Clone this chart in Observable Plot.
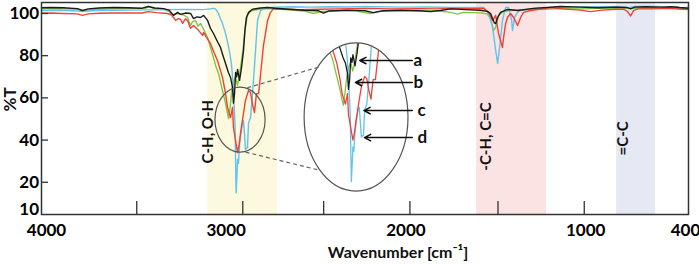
<!DOCTYPE html>
<html><head><meta charset="utf-8">
<script src="https://cdn.jsdelivr.net/npm/d3@7"></script>
<script src="https://cdn.jsdelivr.net/npm/@observablehq/plot@0.6"></script>
<style>
html,body{margin:0;padding:0;background:#fff;}
#chart{width:699px;height:264px;}
</style></head><body><div id="chart"></div>
<script>
// ---- data (wavenumber cm-1, %T) ----
const spectrumA = [[4000,102.7],[3950,102.8],[3880,102.7],[3800,102.3],[3772,101.4],[3740,102.2],[3680,102.6],[3600,102.8],[3520,102.7],[3440,102.5],[3405,103.3],[3370,102.6],[3320,102.3],[3290,101.6],[3275,100],[3265,99.1],[3243,100.5],[3226,99.6],[3200,100.2],[3170,100],[3154,97.6],[3135,98.4],[3115,98.1],[3098,99.1],[3076,96.7],[3060,93],[3043,90.5],[3020,86.5],[3004,83.9],[2990,80],[2976,76.3],[2960,72],[2948,69.7],[2937,64.9],[2932,57.5],[2926,62],[2920,72],[2914,70],[2909,73.5],[2898,68.3],[2887,74.4],[2876,82.5],[2868,92],[2860,98],[2848,100.5],[2826,102],[2781,102.6],[2742,102.8],[2700,102.5],[2620,102],[2540,101.5],[2460,101.3],[2431,100.2],[2400,101.2],[2300,101.6],[2200,101.3],[2152,100.4],[2100,101.3],[2000,101.5],[1900,101.3],[1835,100.9],[1780,101.4],[1724,102.2],[1640,101.8],[1560,101.5],[1520,101],[1501,100],[1490,97.5],[1480,95.5],[1473,95.2],[1462,98.1],[1446,100.5],[1407,101.9],[1351,101.4],[1262,102.4],[1112,103.3],[1000,103],[900,102.7],[800,103],[740,102.8],[722,102.2],[700,103],[640,103.2],[560,103],[500,103.2],[450,102.8],[400,102.5]];
const spectrumB = [[4000,102.2],[3900,102.3],[3800,102],[3772,101.3],[3700,102],[3600,102.2],[3500,102.3],[3420,102.4],[3405,103.4],[3380,102.5],[3320,102],[3290,101],[3270,99.5],[3240,100],[3210,99.3],[3187,98.1],[3171,94.3],[3160,96],[3143,96.7],[3130,94],[3115,95.3],[3095,92],[3076,88.6],[3060,84],[3043,79.1],[3030,75],[3015,71.6],[2993,63.5],[2976,57.4],[2965,52.6],[2959,50.2],[2950,56],[2940,64],[2930,68],[2920,70],[2910,66],[2904,68],[2893,74],[2880,82],[2868,92],[2855,99],[2835,101.2],[2790,102],[2742,102.3],[2650,101.8],[2540,101.2],[2486,100],[2440,101],[2350,101.3],[2250,101.1],[2169,100],[2120,101],[2000,101.3],[1900,101.4],[1800,101.3],[1724,100.5],[1685,99.7],[1652,100.5],[1560,100.3],[1520,99.8],[1501,97.6],[1485,91.9],[1473,93.4],[1457,99.1],[1430,100.8],[1400,101.4],[1300,101.8],[1200,102],[1100,102.3],[1000,102.2],[900,102.4],[800,102.5],[700,102.4],[600,102.5],[500,102.4],[400,102.2]];
const spectrumC = [[4000,100.1],[3950,100.2],[3880,100],[3800,99.8],[3772,99.1],[3740,99.8],[3680,100.1],[3600,100.2],[3500,100.3],[3440,100.2],[3405,100.9],[3360,100.4],[3300,100],[3282,99.5],[3265,98.1],[3254,96.7],[3238,97.6],[3226,97.2],[3215,95.3],[3199,97.5],[3187,96.5],[3171,93],[3154,94.3],[3126,92],[3104,89.6],[3098,91],[3085,89],[3060,85.8],[3040,81.5],[3021,77.7],[2993,69.7],[2976,62.1],[2965,55.5],[2948,50.7],[2937,55.5],[2932,46],[2920,39.8],[2909,34.1],[2900,38],[2893,43.1],[2882,49.3],[2865,58.8],[2848,63.5],[2837,62.6],[2826,57],[2815,53],[2804,62],[2792,62],[2781,71],[2765,84.8],[2742,96.7],[2726,100.5],[2709,102.2],[2650,102],[2560,101.8],[2450,102],[2350,102.2],[2200,102.4],[2050,102.2],[1900,102.3],[1800,102.2],[1724,102.4],[1600,102.3],[1540,102.4],[1512,100.5],[1490,96.7],[1473,99.1],[1457,90.5],[1435,83.9],[1429,88.6],[1418,95],[1407,98.1],[1390,100],[1373,98.1],[1351,94.3],[1334,98.1],[1318,100.5],[1279,101.4],[1167,102.8],[1100,102.2],[1000,101.6],[945,100.9],[880,101.6],[800,102],[760,102],[740,101],[722,98.8],[705,101.5],[680,102.2],[600,102.2],[500,102.4],[430,102],[400,101.8]];
const spectrumD = [[4000,101.4],[3900,101.5],[3800,101.2],[3772,100.9],[3700,101.4],[3600,101.5],[3500,101.6],[3400,101.7],[3300,101.8],[3200,101.9],[3100,101.8],[3060,102.2],[3043,102.4],[3032,102.2],[3015,100],[3004,97.5],[2993,95.3],[2976,90.5],[2965,86.5],[2954,82],[2943,76],[2937,70],[2932,62],[2926,53],[2923,46],[2920,30],[2917,15],[2912,24],[2909,31],[2904,29],[2898,38],[2893,41.2],[2882,48],[2876,49.3],[2870,42],[2865,35.5],[2854,36.5],[2848,48],[2837,50.7],[2826,62],[2815,75],[2809,82.5],[2798,96.7],[2781,101.4],[2750,102.6],[2700,103],[2600,103.2],[2500,103],[2400,103.2],[2300,103.1],[2200,103.3],[2000,103],[1850,103.1],[1724,102.8],[1540,102.8],[1512,100],[1490,93.4],[1473,82.5],[1462,76.3],[1451,83.9],[1435,96.7],[1418,102.8],[1401,102.8],[1384,96.7],[1379,91.9],[1368,98.1],[1351,100.5],[1334,101.4],[1262,102.4],[1100,103],[900,103.2],[800,103.3],[760,103],[740,102.6],[700,103.3],[560,103.3],[530,102.6],[480,103.3],[440,102.6],[400,103]];

const seriesNames = ["a", "b", "c", "d"];

// tick values
const xLabelTicks = [4000, 3000, 2000, 1000];
const xEndTick = [400];
const xTickMarks = [3470, 2880, 2430, 1950, 1460, 980];
const yTicks = [100, 80, 60, 40, 20];
const yLowTick = [10];

// shaded band ranges (cm-1) and labels
const bandFrom = [3076, 1579, 800];
const bandTo = [2687, 1190, 583];
const bandLabels = ["C-H, O-H", "-C-H, C=C", "=C-C"];
const bandLabelW = [3071, 1526, 764];
const bandLabelT = [44, 41.7, 40.8];

// zoom annotation (data units)
const zoomSmallW = [3032, 2753], zoomSmallT = [64.9, 34.1];
const zoomBigW = [2536, 1958], zoomBigT = [85.8, 15.6];
const insetW = [3160, 2620], insetT = [10.4, 78.7];
const connectFromW = [2855, 2865], connectFromT = [64.8, 34.3];
const connectToW = [2457, 2447], connectToT = [74.6, 25.6];

// arrow callouts
const arrowStartW = [1937, 1937, 1937, 1937];
const arrowTipW = [2229, 2253, 2206, 2203];
const arrowT = [77.7, 67.3, 54.0, 41.2];
const arrowLabelW = [1930, 1930, 1908, 1908];

// ---- styles ----
const colors = {a: "#1a1a1a", b: "#86c440", c: "#ef4136", d: "#62c3ec"};
const drawOrder = ["b", "d", "c", "a"];
const bandColors = ["#fcf9df", "#fbe3e4", "#e6e9f4"];
const FONT = "Lato, 'Open Sans', 'DejaVu Sans', sans-serif";

const spectra = {a: spectrumA, b: spectrumB, c: spectrumC, d: spectrumD};
const bands = bandFrom.map((f, i) => ({from: f, to: bandTo[i], label: bandLabels[i], w: bandLabelW[i], t: bandLabelT[i]}));
const connectors = connectFromW.map((w, i) => ({w1: w, t1: connectFromT[i], w2: connectToW[i], t2: connectToT[i]}));
const arrows = seriesNames.map((n, i) => ({name: n, from: arrowStartW[i], tip: arrowTipW[i], t: arrowT[i], lw: arrowLabelW[i]}));

const lineMarks = (sw) => drawOrder.map(k => Plot.line(spectra[k], {x: d => d[0], y: d => d[1], stroke: colors[k], strokeWidth: sw, curve: "linear"}));

const chart = Plot.plot({
  width: 699, height: 264,
  marginLeft: 41, marginRight: 11, marginTop: 2, marginBottom: 50,
  x: {domain: [4000, 400]},
  y: {domain: [4.74, 105.2]},
  style: {fontFamily: FONT, fontSize: "17px", fontWeight: 700, color: "#000", background: "#fff", overflow: "visible"},
  marks: [
    ...bands.map((b, i) => Plot.rect([b], {x1: "from", x2: "to", fill: bandColors[i]})),
    ...lineMarks(1.4),
    Plot.text(bands, {x: "w", y: "t", text: "label", rotate: -90, fontSize: 15, fontWeight: 700, fill: "#111"}),
    Plot.link(connectors, {x1: "w1", y1: "t1", x2: "w2", y2: "t2", stroke: "#666", strokeWidth: 1.2, strokeDasharray: "4,3"}),
    Plot.arrow(arrows, {x1: "from", x2: "tip", y1: "t", y2: "t", stroke: "#111", strokeWidth: 1.5, headLength: 7, headAngle: 55}),
    Plot.text(arrows, {x: "lw", y: "t", text: "name", textAnchor: "start", fontSize: 17, fontWeight: 700, fill: "#111"}),
    Plot.axisY(yTicks, {anchor: "left", tickSize: 0, tickPadding: 2.5, label: null, fontSize: 17, fontWeight: 700}),
    Plot.axisY(yLowTick, {anchor: "left", tickSize: 0, tickPadding: 2.5, dy: 6, label: null, fontSize: 17, fontWeight: 700}),
    Plot.axisY(yTicks, {anchor: "left", tickSize: -7, fill: "none", stroke: "#333", strokeWidth: 1.3}),
    Plot.axisX(xLabelTicks, {anchor: "bottom", tickSize: 0, tickPadding: 9, dx: 5, label: null, tickFormat: d => String(d), fontSize: 17, fontWeight: 700}),
    Plot.axisX(xEndTick, {anchor: "bottom", tickSize: 0, tickPadding: 9, dx: -3, label: null, tickFormat: d => String(d), fontSize: 17, fontWeight: 700}),
    Plot.axisX(xTickMarks, {anchor: "bottom", tickSize: -13, fill: "none", stroke: "#333", strokeWidth: 1.3}),
    Plot.text(["Wavenumber [cm⁻¹]"], {text: d => d, frameAnchor: "bottom", lineAnchor: "top", dx: 33, dy: 32, fontSize: 16, fontWeight: 700, fill: "#111"}),
    Plot.text(["%T"], {text: d => d, frameAnchor: "left", dx: -31, dy: 3, rotate: -90, fontSize: 17, fontWeight: 700, fill: "#111"}),
    Plot.frame({stroke: "#333", strokeWidth: 1.5})
  ]
});

// ---- zoom annotation, positioned through the chart's own scales ----
const sx = chart.scale("x"), sy = chart.scale("y");
function box(ws, ts) {
  const x1 = sx.apply(ws[0]), x2 = sx.apply(ws[1]), y1 = sy.apply(ts[0]), y2 = sy.apply(ts[1]);
  return {x: Math.min(x1, x2), y: Math.min(y1, y2), w: Math.abs(x2 - x1), h: Math.abs(y2 - y1),
          cx: (x1 + x2) / 2, cy: (y1 + y2) / 2, rx: Math.abs(x2 - x1) / 2, ry: Math.abs(y2 - y1) / 2};
}
const small = box(zoomSmallW, zoomSmallT);
const big = box(zoomBigW, zoomBigT);
const NS = "http://www.w3.org/2000/svg";

const inset = Plot.plot({
  width: big.w, height: big.h, margin: 0,
  x: {domain: insetW, axis: null}, y: {domain: insetT, axis: null},
  marks: lineMarks(1.3)
});

const defs = document.createElementNS(NS, "defs");
const clip = document.createElementNS(NS, "clipPath");
clip.setAttribute("id", "inset-clip");
const clipEl = document.createElementNS(NS, "ellipse");
clipEl.setAttribute("cx", big.cx); clipEl.setAttribute("cy", big.cy);
clipEl.setAttribute("rx", big.rx); clipEl.setAttribute("ry", big.ry);
clip.appendChild(clipEl); defs.appendChild(clip);
chart.appendChild(defs);

const outer = document.createElementNS(NS, "g");
outer.setAttribute("clip-path", "url(#inset-clip)");
const inner = document.createElementNS(NS, "g");
inner.setAttribute("transform", `translate(${big.x},${big.y})`);
Array.from(inset.children).filter(c => c.tagName.toLowerCase() === "g").forEach(c => inner.appendChild(c));
outer.appendChild(inner);

function ell(b) {
  const e = document.createElementNS(NS, "ellipse");
  e.setAttribute("cx", b.cx); e.setAttribute("cy", b.cy);
  e.setAttribute("rx", b.rx); e.setAttribute("ry", b.ry);
  e.setAttribute("fill", "none"); e.setAttribute("stroke", "#555"); e.setAttribute("stroke-width", 1.2);
  return e;
}
const before = chart.querySelector('g[aria-label="arrow"]');
chart.insertBefore(outer, before);
chart.insertBefore(ell(small), before);
chart.insertBefore(ell(big), before);

document.getElementById("chart").appendChild(chart);
</script>
</body></html>
